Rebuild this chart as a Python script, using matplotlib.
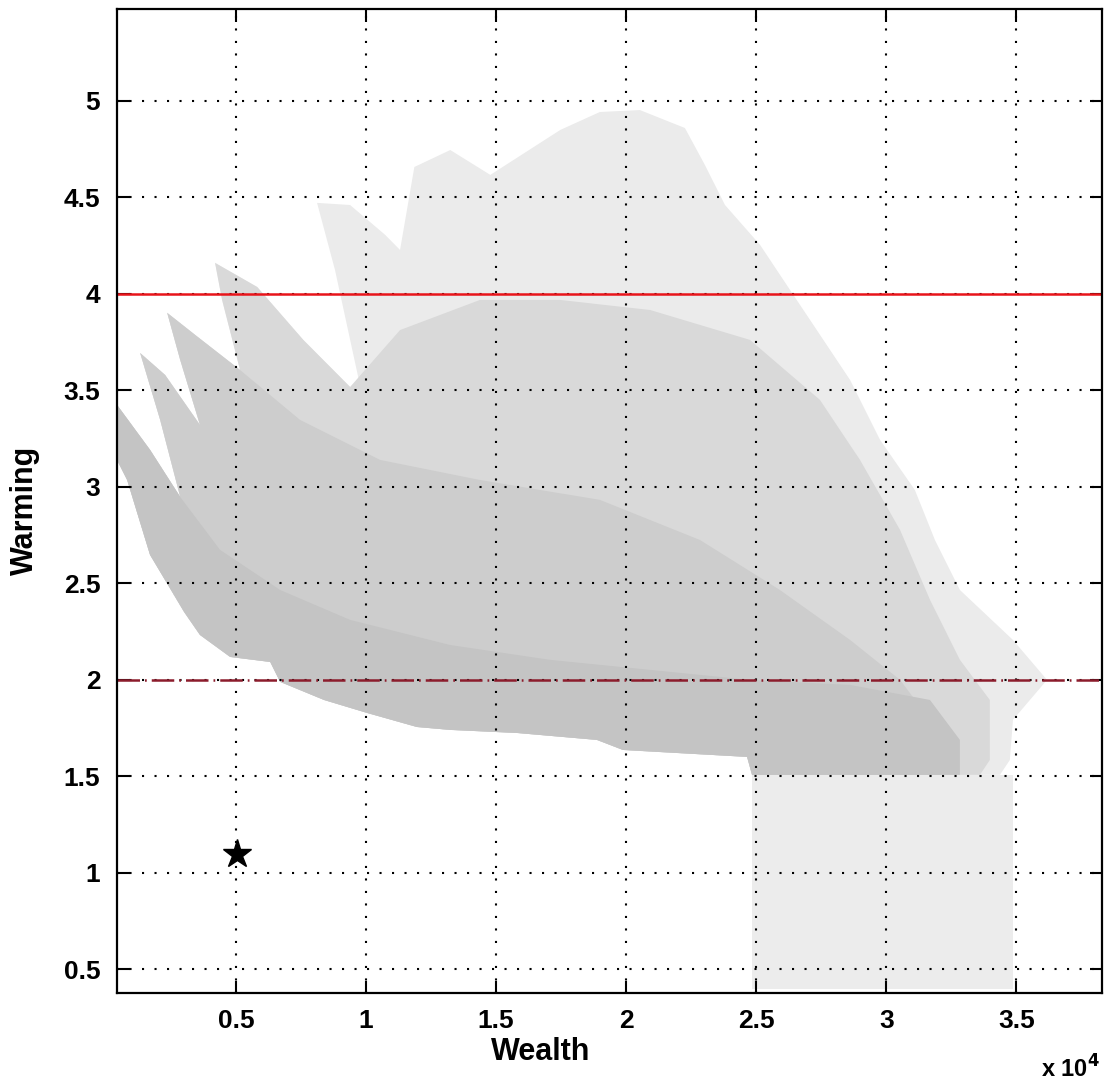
import numpy as np
import matplotlib
matplotlib.use("Agg")
import matplotlib.pyplot as plt
from matplotlib.ticker import FixedLocator

plt.rcParams['font.family'] = ['Liberation Sans', 'DejaVu Sans']

# ---------------- data (wealth in units of 1e4, warming in deg C) ----------------
# Outer envelope of the simulated cloud (sparse outer fringe)
env_wealth = [0.043, 0.170, 0.286, 0.209, 0.132, 0.228, 0.362, 0.286, 0.236, 0.343,
              0.516, 0.447, 0.420, 0.582, 0.759, 0.939, 0.985, 0.881, 0.812, 0.939,
              1.074, 1.131, 1.186, 1.324, 1.478, 1.747, 1.899, 2.053, 2.226, 2.303,
              2.380, 2.515, 2.630, 2.861, 2.976, 3.110, 3.187, 3.283, 3.487, 3.618,
              3.487, 3.475, 3.437, 2.484, 2.465, 1.988, 1.888, 1.581, 1.323, 1.196,
              1.004, 0.839, 0.670, 0.632, 0.478, 0.362, 0.301, 0.170, 0.082, 0.043]
env_warming = [3.425, 3.192, 2.948, 3.347, 3.694, 3.580, 3.321, 3.658, 3.902, 3.788,
               3.606, 3.969, 4.161, 4.036, 3.762, 3.518, 3.477, 4.124, 4.472, 4.461,
               4.306, 4.228, 4.658, 4.746, 4.617, 4.850, 4.943, 4.953, 4.860, 4.668,
               4.461, 4.254, 4.021, 3.554, 3.244, 2.984, 2.725, 2.466, 2.207, 2.000,
               1.793, 1.585, 1.508, 1.508, 1.601, 1.637, 1.689, 1.725, 1.741, 1.756,
               1.829, 1.896, 1.990, 2.093, 2.119, 2.233, 2.352, 2.648, 3.036, 3.140]

# Medium-density body
mid_wealth = [0.043, 0.170, 0.286, 0.209, 0.132, 0.228, 0.362, 0.286, 0.236, 0.343,
              0.516, 0.447, 0.420, 0.582, 0.759, 0.939, 1.131, 1.438, 1.746, 2.092,
              2.476, 2.745, 2.899, 3.053, 3.168, 3.283, 3.398, 3.398, 3.360, 2.484,
              2.465, 1.988, 1.888, 1.581, 1.323, 1.196, 1.004, 0.839, 0.670, 0.632,
              0.478, 0.362, 0.301, 0.170, 0.082, 0.043]
mid_warming = [3.425, 3.192, 2.948, 3.347, 3.694, 3.580, 3.321, 3.658, 3.902, 3.788,
               3.606, 3.969, 4.161, 4.036, 3.762, 3.518, 3.813, 3.969, 3.969, 3.917,
               3.762, 3.451, 3.140, 2.777, 2.415, 2.104, 1.896, 1.585, 1.508, 1.508,
               1.601, 1.637, 1.689, 1.725, 1.741, 1.756, 1.829, 1.896, 1.990, 2.093,
               2.119, 2.233, 2.352, 2.648, 3.036, 3.140]

# Dense body
dense_wealth = [0.043, 0.170, 0.286, 0.209, 0.132, 0.228, 0.362, 0.286, 0.236, 0.343,
                0.516, 0.747, 1.054, 1.438, 1.899, 2.284, 2.591, 2.861, 3.053, 3.168,
                3.245, 3.207, 2.484, 2.465, 1.988, 1.888, 1.581, 1.323, 1.196, 1.004,
                0.839, 0.670, 0.632, 0.478, 0.362, 0.301, 0.170, 0.082, 0.043]
dense_warming = [3.425, 3.192, 2.948, 3.347, 3.694, 3.580, 3.321, 3.658, 3.902, 3.788,
                 3.606, 3.347, 3.140, 3.036, 2.933, 2.725, 2.466, 2.207, 2.000, 1.793,
                 1.585, 1.508, 1.508, 1.601, 1.637, 1.689, 1.725, 1.741, 1.756, 1.829,
                 1.896, 1.990, 2.093, 2.119, 2.233, 2.352, 2.648, 3.036, 3.140]

# Solid lowest fan and low-warming strip
solid_wealth = [0.043, 0.170, 0.286, 0.439, 0.670, 0.939, 1.323, 1.707, 2.092, 2.476,
                2.861, 3.168, 3.283, 3.283, 2.484, 2.465, 1.988, 1.888, 1.581, 1.323,
                1.196, 1.004, 0.839, 0.670, 0.632, 0.478, 0.362, 0.301, 0.170, 0.082,
                0.043]
solid_warming = [3.425, 3.192, 2.948, 2.674, 2.466, 2.311, 2.181, 2.104, 2.052, 2.000,
                 1.974, 1.896, 1.689, 1.508, 1.508, 1.601, 1.637, 1.689, 1.725, 1.741,
                 1.756, 1.829, 1.896, 1.990, 2.093, 2.119, 2.233, 2.352, 2.648, 3.036,
                 3.140]

# Sparse block below 1.5 degrees
low_wealth = [2.484, 3.487, 3.487, 2.484]
low_warming = [1.508, 1.508, 0.40, 0.40]

# Reference point (star)
star_wealth = [0.505]
star_warming = [1.10]

# Thresholds
limit_high = 4.0
limit_low = 2.0

xticks = [0.5, 1, 1.5, 2, 2.5, 3, 3.5]
xtick_labels = ['0.5', '1', '1.5', '2', '2.5', '3', '3.5']
yticks = [0.5, 1, 1.5, 2, 2.5, 3, 3.5, 4, 4.5, 5]
ytick_labels = ['0.5', '1', '1.5', '2', '2.5', '3', '3.5', '4', '4.5', '5']

SCALE = 1e4

# ---------------- figure ----------------
fig = plt.figure(figsize=(11.08, 10.91), dpi=100)
ax = fig.add_axes([0.1056, 0.0901, 0.8887, 0.9017])

def poly(w, t, color):
    ax.fill(np.asarray(w) * SCALE, t, color=color, lw=0, zorder=1)

poly(env_wealth, env_warming, '#ebebeb')
poly(low_wealth, low_warming, '#ececec')
poly(mid_wealth, mid_warming, '#d9d9d9')
poly(dense_wealth, dense_warming, '#cdcdcd')
poly(solid_wealth, solid_warming, '#c4c4c4')

ax.axhline(limit_high, color='#e8141a', lw=1.8, zorder=4)
ax.axhline(limit_low, color='#8c1c2c', lw=1.8, zorder=4,
           linestyle=(0, (9, 2, 0.7, 2)))

ax.plot(np.asarray(star_wealth) * SCALE, star_warming, marker='*', color='black',
        markersize=21, linestyle='none', zorder=5)

ax.set_xlim(0.043 * SCALE, 3.828 * SCALE)
ax.set_ylim(0.379, 5.477)

ax.xaxis.set_major_locator(FixedLocator(np.asarray(xticks) * SCALE))
ax.set_xticklabels(xtick_labels)
ax.yaxis.set_major_locator(FixedLocator(yticks))
ax.set_yticklabels(ytick_labels)

ax.set_axisbelow(False)
ax.grid(True, color='black', linestyle=(0, (1, 5)), lw=1.5, zorder=3)

ax.tick_params(direction='in', length=9, width=1.5, top=True, right=True,
               labelsize=19, pad=12)
for lab in ax.get_xticklabels() + ax.get_yticklabels():
    lab.set_fontweight('bold')
for s in ax.spines.values():
    s.set_linewidth(1.6)
    s.set_zorder(6)

ax.set_xlabel('Wealth', fontsize=22, fontweight='bold')
ax.set_ylabel('Warming', fontsize=22, fontweight='bold')
ax.xaxis.set_label_coords(0.43, -0.045)
ax.yaxis.set_label_coords(-0.078, 0.49)

fig.text(0.993, 0.008, r'x 10$^{\mathbf{4}}$', ha='right', va='bottom',
         fontsize=17, fontweight='bold')

fig.savefig('out.png', dpi=100)
